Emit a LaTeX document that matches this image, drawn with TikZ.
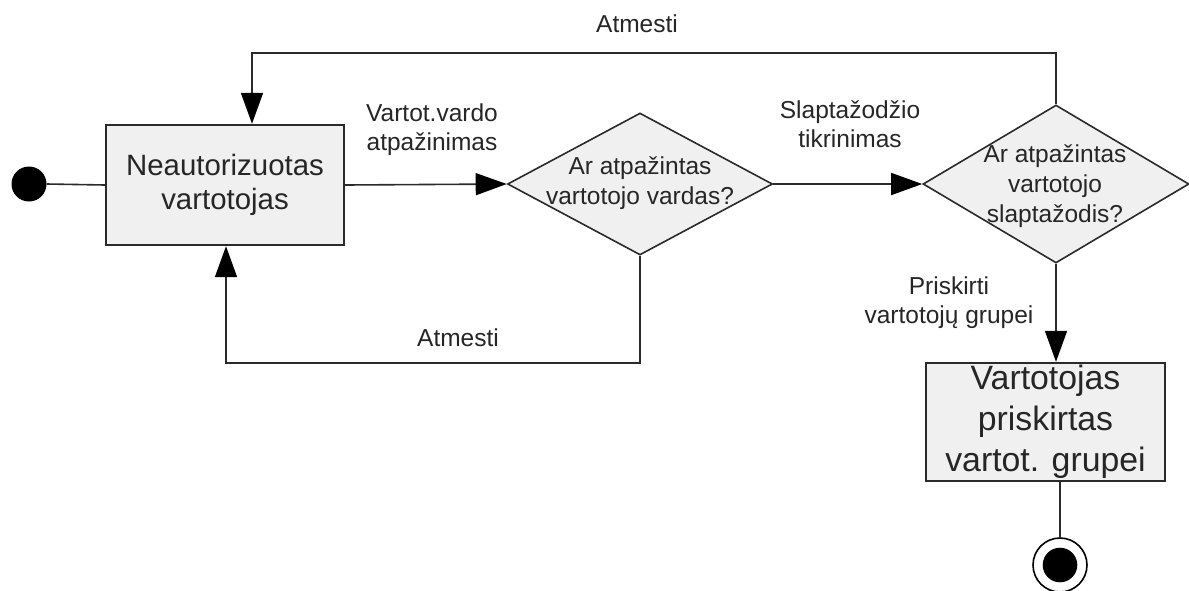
\documentclass[tikz,border=0pt]{standalone}
\usepackage{fontspec}
\setmainfont{Liberation Sans}
\usetikzlibrary{shapes.geometric,arrows.meta}
\definecolor{stroke}{HTML}{2A2A2A}
\definecolor{boxfill}{HTML}{F0F0F0}
\definecolor{ink}{HTML}{262626}
\tikzset{
  conn/.style={draw=stroke,line width=1.6pt},
  arr/.style={conn,-{Triangle[length=31pt,width=22pt,color=black]}},
  statebox/.style={draw=stroke,line width=2.4pt,fill=boxfill,inner sep=0pt,align=center,text=ink},
  decision/.style={diamond,draw=stroke,line width=1.6pt,fill=boxfill,inner sep=0pt},
  dtext/.style={align=center,text=ink,inner sep=0pt,font=\fontsize{24.5}{30}\selectfont},
  lbl/.style={align=center,text=ink,inner sep=0pt,font=\fontsize{24.5}{29}\selectfont},
}
\begin{document}
\begin{tikzpicture}[x=1pt,y=-1pt]
\useasboundingbox[fill=white] (0,0) rectangle (1189,590);

% initial state and first state
\node[circle,fill=black,minimum size=35pt,inner sep=0pt] (init) at (29,184) {};
\node[statebox,minimum width=238pt,minimum height=120pt,font=\fontsize{29.4}{34.5}\selectfont]
  (b1) at (225,185) {Neautorizuotas\\vartotojas};

% decisions
\node[decision,minimum width=265pt,minimum height=142pt] (d1) at (640,184) {};
\node[dtext] (d1t) at (640,183) {Ar atpažintas\\vartotojo vardas?};
\node[decision,minimum width=266pt,minimum height=158pt] (d2) at (1056,184) {};
\node[dtext] (d2t) at (1055,186) {Ar atpažintas\\vartotojo\\slaptažodis?};

% final state box
\node[statebox,minimum width=239pt,minimum height=118pt,font=\fontsize{33.8}{41}\selectfont]
  (b2) at (1045.5,422) {Vartotojas\\priskirtas\\vartot. grupei};

% final state
\node[circle,draw=black,line width=1.6pt,fill=white,minimum size=54pt,inner sep=0pt] (fin) at (1060,565) {};
\fill[black] (fin.center) circle (17.3);

% connectors
\draw[conn] (init.east) -- (b1.west);
\draw[arr] (b1.east) -- (d1.west);
\draw[arr] (d1.east) -- (d2.west);
\draw[arr] (d2.south) -- (d2.south |- b2.north);
\draw[conn] (b2.south -| fin) -- (fin.north);

\coordinate (tl) at (252,53);
\draw[arr] (d2.north) |- (tl) -- (tl |- b1.north);
\coordinate (bl) at (226,363);
\draw[arr] (d1.south) |- (bl) -- (bl |- b1.south);

% labels
\node[lbl] (l1) at (432,130) {Vartot.vardo\\atpažinimas};
\node[lbl] (l2) at (850,124) {Slaptažodžio\\tikrinimas};
\node[lbl] (l3) at (949,303) {Priskirti\\vartotojų grupei};
\node[lbl] (l4) at (637,24) {Atmesti};
\node[lbl] (l5) at (458,338) {Atmesti};
\end{tikzpicture}
\end{document}
